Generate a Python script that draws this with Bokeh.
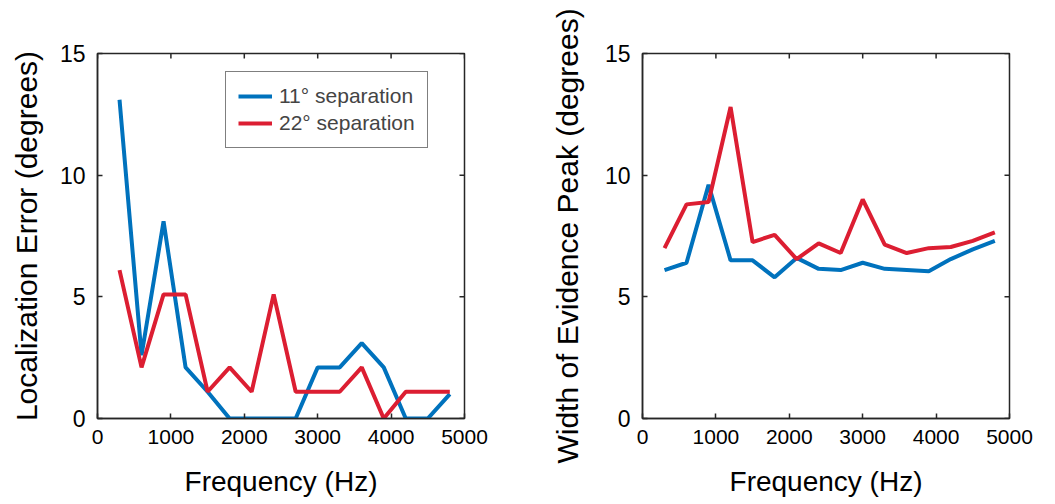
import math
from bokeh.plotting import figure
from bokeh.layouts import row
from bokeh.models import Range1d, FixedTicker, Legend, LegendItem
from bokeh.embed import file_html
from bokeh.resources import INLINE

# ---- data ----
freq = [300, 600, 900, 1200, 1500, 1800, 2100, 2400, 2700, 3000, 3300, 3600, 3900, 4200, 4500, 4800]
err_11 = [13.1, 2.6, 8.1, 2.1, 1.1, 0, 0, 0, 0, 2.1, 2.1, 3.1, 2.1, 0, 0, 1.0]
err_22 = [6.1, 2.1, 5.1, 5.1, 1.1, 2.1, 1.1, 5.1, 1.1, 1.1, 1.1, 2.1, 0, 1.1, 1.1, 1.1]
width_11 = [6.1, 6.4, 9.6, 6.5, 6.5, 5.8, 6.6, 6.15, 6.1, 6.4, 6.15, 6.1, 6.05, 6.55, 6.95, 7.3]
width_22 = [7.0, 8.8, 8.9, 12.8, 7.25, 7.55, 6.55, 7.2, 6.8, 9.0, 7.15, 6.8, 7.0, 7.05, 7.3, 7.65]
x_ticks = [0, 1000, 2000, 3000, 4000, 5000]
y_ticks = [0, 5, 10, 15]
x_lim = [0, 5000]
y_lim = [0, 15]
series_labels = ["11\u00b0 separation", "22\u00b0 separation"]
x_title = "Frequency (Hz)"
y_title_left = "Localization Error (degrees)"
y_title_right = "Width of Evidence Peak (degrees)"

BLUE = "#0072BD"
RED = "#DC1E32"
AXC = "#262626"
FONT = "Liberation Sans"


def style_axes(p, ystandoff):
    for ax in p.xaxis + p.yaxis:
        ax.axis_line_color = AXC
        ax.axis_line_width = 1.5
        ax.major_tick_line_color = AXC
        ax.major_tick_line_width = 1.5
        ax.major_tick_in = 5
        ax.major_tick_out = 0
        ax.minor_tick_line_color = None
        ax.major_label_text_font = FONT
        ax.major_label_text_color = "black"
        ax.axis_label_text_font = FONT
        ax.axis_label_text_font_style = "normal"
        ax.axis_label_text_color = "black"
    p.xaxis[0].ticker = FixedTicker(ticks=x_ticks)
    p.yaxis[0].ticker = FixedTicker(ticks=y_ticks)
    p.xaxis[0].major_label_text_font_size = "21px"
    p.yaxis[0].major_label_text_font_size = "23px"
    p.xaxis[0].major_label_standoff = 11
    p.yaxis[0].major_label_standoff = 12
    p.xaxis[0].axis_label_text_font_size = "28px"
    p.yaxis[0].axis_label_text_font_size = "30px"
    p.xaxis[0].axis_label_standoff = 19
    p.yaxis[0].axis_label_standoff = ystandoff
    p.xgrid.visible = False
    p.ygrid.visible = False
    p.outline_line_color = AXC
    p.outline_line_width = 1.5
    # mirrored ticks on the top and right edges of the box
    p.scatter([x_lim[1]] * len(y_ticks), y_ticks, marker="dash", size=10,
              line_color=AXC, line_width=1.5)
    p.scatter(x_ticks, [y_lim[1]] * len(x_ticks), marker="dash", size=10, angle=math.pi / 2,
              line_color=AXC, line_width=1.5)


def make(width, bl, br, ytitle, ystandoff, y1, y2, legend):
    p = figure(width=width, height=504, output_backend="svg", toolbar_location=None,
               x_range=Range1d(*x_lim), y_range=Range1d(*y_lim),
               min_border_left=bl, min_border_right=br, min_border_top=53, min_border_bottom=86,
               x_axis_label=x_title, y_axis_label=ytitle)
    style_axes(p, ystandoff)
    r1 = p.line(freq, y1, line_color=BLUE, line_width=4)
    r2 = p.line(freq, y2, line_color=RED, line_width=4)
    if legend:
        lg = Legend(items=[LegendItem(label=series_labels[0], renderers=[r1]),
                           LegendItem(label=series_labels[1], renderers=[r2])],
                    location=(128, 270))
        lg.label_text_font = FONT
        lg.label_text_font_size = "21px"
        lg.label_standoff = 7
        lg.glyph_width = 34
        lg.glyph_height = 20
        lg.label_height = 20
        lg.spacing = 3
        lg.padding = 12
        lg.margin = 0
        lg.border_line_color = "black"
        lg.border_line_width = 1.5
        lg.background_fill_color = "white"
        lg.background_fill_alpha = 1
        p.add_layout(lg, "center")
    return p


p1 = make(527, 97, 63, y_title_left, 14, err_11, err_22, True)
p2 = make(528, 115, 46, y_title_right, 18, width_11, width_22, False)
p = row(p1, p2)

open("out.html", "w").write(file_html(p, INLINE))
